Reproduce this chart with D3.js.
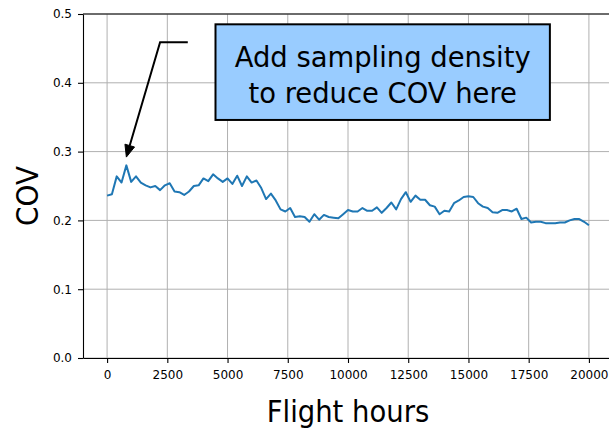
<!DOCTYPE html>
<html>
<head>
<meta charset="utf-8">
<script src="https://cdn.jsdelivr.net/npm/d3@7/dist/d3.min.js"></script>
<style>
  body { margin: 0; background: #fff; }
  text { font-family: "DejaVu Sans", "Bitstream Vera Sans", sans-serif; fill: #000; }
</style>
</head>
<body>
<svg id="chart" width="609" height="430"></svg>
<script>
// Flight hours at which the COV was evaluated
const hours = [
  0, 200, 400, 600, 800, 1000, 1200, 1400, 1600, 1800,
  2000, 2200, 2400, 2600, 2800, 3000, 3200, 3400, 3600, 3800,
  4000, 4200, 4400, 4600, 4800, 5000, 5200, 5400, 5600, 5800,
  6000, 6200, 6400, 6600, 6800, 7000, 7200, 7400, 7600, 7800,
  8000, 8200, 8400, 8600, 8800, 9000, 9200, 9400, 9600, 9800,
  10000, 10200, 10400, 10600, 10800, 11000, 11200, 11400, 11600, 11800,
  12000, 12200, 12400, 12600, 12800, 13000, 13200, 13400, 13600, 13800,
  14000, 14200, 14400, 14600, 14800, 15000, 15200, 15400, 15600, 15800,
  16000, 16200, 16400, 16600, 16800, 17000, 17200, 17400, 17600, 17800,
  18000, 18200, 18400, 18600, 18800, 19000, 19200, 19400, 19600, 19800,
  20000
];

// Coefficient of variation at each flight-hour sample
const cov = [
  0.236, 0.238, 0.264, 0.255, 0.280, 0.256, 0.264, 0.255, 0.251, 0.248,
  0.250, 0.244, 0.251, 0.254, 0.242, 0.241, 0.237, 0.242, 0.250, 0.251,
  0.261, 0.257, 0.267, 0.261, 0.256, 0.261, 0.253, 0.265, 0.250, 0.264,
  0.255, 0.258, 0.247, 0.231, 0.239, 0.229, 0.216, 0.213, 0.218, 0.205,
  0.206, 0.205, 0.198, 0.209, 0.201, 0.208, 0.205, 0.204, 0.203, 0.209,
  0.215, 0.213, 0.213, 0.218, 0.214, 0.214, 0.219, 0.211, 0.218, 0.226,
  0.216, 0.231, 0.241, 0.227, 0.236, 0.230, 0.230, 0.222, 0.220, 0.209,
  0.214, 0.213, 0.225, 0.229, 0.234, 0.235, 0.234, 0.225, 0.220, 0.218,
  0.212, 0.211, 0.215, 0.215, 0.213, 0.217, 0.202, 0.204, 0.197, 0.198,
  0.198, 0.196, 0.196, 0.196, 0.197, 0.197, 0.200, 0.202, 0.202, 0.198,
  0.193
];

const xTicks = [0, 2500, 5000, 7500, 10000, 12500, 15000, 17500, 20000];
const yTicks = [0.0, 0.1, 0.2, 0.3, 0.4, 0.5];

const xLabel = "Flight hours";
const yLabel = "COV";
const noteLines = ["Add sampling density", "to reduce COV here"];

// Annotation geometry in data units: arrow tip, elbow, tail end, and the note box
const arrowTip = [800, 0.292];
const arrowElbow = [2200, 0.459];
const arrowTail = [3350, 0.459];
const noteBox = { x0: 4500, x1: 18380, y0: 0.485, y1: 0.346 };

const svg = d3.select("#chart");
const plot = { left: 83, right: 613, top: 14, bottom: 358 };

const x = d3.scaleLinear().domain([-1000, 21000]).range([plot.left, plot.right]);
const y = d3.scaleLinear().domain([0, 0.5]).range([plot.bottom, plot.top]);

// grid
const grid = svg.append("g").attr("stroke", "#b0b0b0").attr("stroke-width", 1);
grid.selectAll("line.gx").data(xTicks).join("line")
  .attr("x1", d => x(d)).attr("x2", d => x(d))
  .attr("y1", plot.top).attr("y2", plot.bottom);
grid.selectAll("line.gy").data(yTicks).join("line")
  .attr("x1", plot.left).attr("x2", plot.right)
  .attr("y1", d => y(d)).attr("y2", d => y(d));

// series
const pts = hours.map((h, i) => [h, cov[i]]);
svg.append("path")
  .datum(pts)
  .attr("fill", "none")
  .attr("stroke", "#1f77b4")
  .attr("stroke-width", 2)
  .attr("stroke-linejoin", "round")
  .attr("d", d3.line().x(d => x(d[0])).y(d => y(d[1])));

// axes
const xAxis = svg.append("g")
  .attr("transform", `translate(0,${plot.bottom})`)
  .call(d3.axisBottom(x).tickValues(xTicks).tickSize(5).tickSizeOuter(0).tickPadding(7).tickFormat(d3.format("d")));
const yAxis = svg.append("g")
  .attr("transform", `translate(${plot.left},0)`)
  .call(d3.axisLeft(y).tickValues(yTicks).tickSize(5).tickSizeOuter(0).tickPadding(6).tickFormat(d3.format(".1f")));
[xAxis, yAxis].forEach(g => {
  g.select(".domain").attr("stroke", "#000").attr("stroke-width", 1.1);
  g.selectAll(".tick line").attr("stroke", "#000").attr("stroke-width", 1.1);
  g.selectAll(".tick text").attr("font-size", 12).attr("fill", "#000")
    .style("font-family", '"DejaVu Sans", sans-serif');
});
svg.append("line")
  .attr("x1", plot.left).attr("x2", plot.right)
  .attr("y1", plot.top).attr("y2", plot.top)
  .attr("stroke", "#000").attr("stroke-width", 1.1);

// axis titles
svg.append("g")
  .attr("transform", `translate(${(plot.left + plot.right) / 2},421.5) scale(0.915,1)`)
  .append("text")
  .attr("text-anchor", "middle")
  .attr("font-size", 30)
  .text(xLabel);
svg.append("g")
  .attr("transform", `translate(37.5,196) rotate(-90) scale(0.9,1)`)
  .append("text")
  .attr("text-anchor", "middle")
  .attr("font-size", 31)
  .text(yLabel);

// annotation arrow
const tip = [x(arrowTip[0]), y(arrowTip[1])];
const elbow = [x(arrowElbow[0]), y(arrowElbow[1])];
const tail = [x(arrowTail[0]), y(arrowTail[1])];
const dx = tip[0] - elbow[0], dy = tip[1] - elbow[1];
const len = Math.hypot(dx, dy);
const ux = dx / len, uy = dy / len;
const headLen = 12, headHalf = 5;
const base = [tip[0] - ux * headLen, tip[1] - uy * headLen];
svg.append("path")
  .attr("d", `M${tail[0]},${tail[1]}L${elbow[0]},${elbow[1]}L${base[0]},${base[1]}`)
  .attr("fill", "none").attr("stroke", "#000").attr("stroke-width", 2);
svg.append("path")
  .attr("d", `M${tip[0]},${tip[1]}L${base[0] - uy * headHalf},${base[1] + ux * headHalf}L${base[0] + uy * headHalf},${base[1] - ux * headHalf}Z`)
  .attr("fill", "#000").attr("stroke", "#000").attr("stroke-width", 1);

// note box
const bx0 = x(noteBox.x0), bx1 = x(noteBox.x1), by0 = y(noteBox.y0), by1 = y(noteBox.y1);
svg.append("rect")
  .attr("x", bx0).attr("y", by0)
  .attr("width", bx1 - bx0).attr("height", by1 - by0)
  .attr("fill", "#99ccff").attr("stroke", "#000").attr("stroke-width", 2);
const cx = (bx0 + bx1) / 2, cy = (by0 + by1) / 2;
noteLines.forEach((t, i) => {
  svg.append("g")
    .attr("transform", `translate(${cx},${cy - 5.5 + i * 36.6}) scale(0.945,1)`)
    .append("text")
    .attr("text-anchor", "middle")
    .attr("font-size", 29)
    .text(t);
});
</script>
</body>
</html>
